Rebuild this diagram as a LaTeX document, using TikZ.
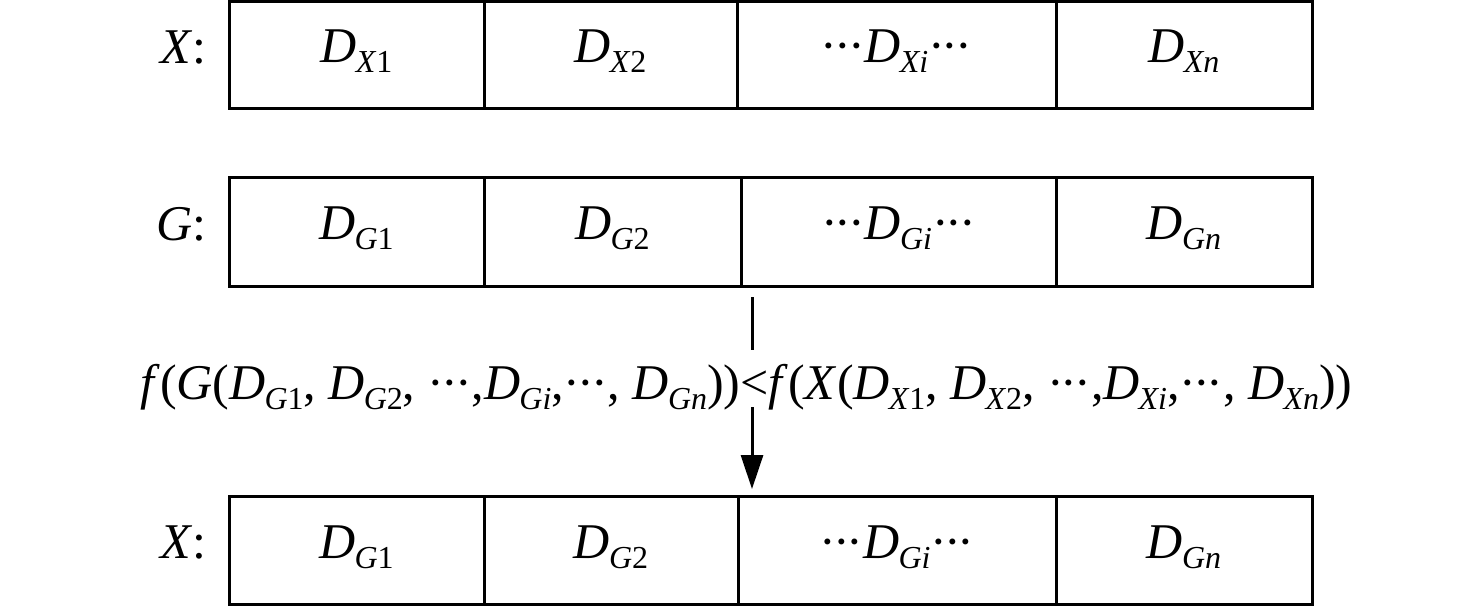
\documentclass[tikz,border=0pt]{standalone}
\usepackage{fontspec}
\setmainfont{Liberation Serif}
\usetikzlibrary{arrows.meta}
\newcommand{\subs}[1]{\raisebox{-5pt}{\fontsize{16}{16}\selectfont #1}}
\newcommand{\DD}[1]{\textit{D}\kern-0.5pt\subs{#1}}
\newcommand{\dts}{·\kern-1.5pt·\kern-1.5pt·}
\tikzset{
  cellbox/.style={draw=black, line width=1.5pt, inner sep=0pt, text height=14pt, text depth=6pt, font=\fontsize{25}{30}\selectfont},
  lbl/.style={inner sep=0pt, anchor=base east, font=\fontsize{25}{30}\selectfont},
  formula/.style={inner sep=0pt, anchor=base west, font=\fontsize{25}{30}\selectfont},
  conn/.style={draw=black, line width=1.5pt},
  arr/.style={conn, -{Triangle[length=17pt, width=11pt]}}
}
\begin{document}
\begin{tikzpicture}[x=0.5pt, y=-0.5pt]
\useasboundingbox (0,0) rectangle (1476,607);
% row 1
\node[cellbox, minimum width=127.5pt, minimum height=53.25pt] (x1) at (356.5,54.75) {\DD{\textit{X}1}};
\node[cellbox, minimum width=126.5pt, minimum height=53.25pt] (x2) at (610.5,54.75) {\DD{\textit{X}2}};
\node[cellbox, minimum width=159.5pt, minimum height=53.25pt] (x3) at (896.5,54.75) {\dts\DD{\textit{Xi}}\dts};
\node[cellbox, minimum width=128pt, minimum height=53.25pt] (x4) at (1184,54.75) {\DD{\textit{Xn}}};
\node[lbl] (lx) at (207,63) {\textit{X}:};
% row 2
\node[cellbox, minimum width=127.5pt, minimum height=54.25pt] (g1) at (356.5,231.75) {\DD{\textit{G}1}};
\node[cellbox, minimum width=128.5pt, minimum height=54.25pt] (g2) at (612.5,231.75) {\DD{\textit{G}2}};
\node[cellbox, minimum width=157.5pt, minimum height=54.25pt] (g3) at (898.5,231.75) {\dts\DD{\textit{Gi}}\dts};
\node[cellbox, minimum width=128pt, minimum height=54.25pt] (g4) at (1184,231.75) {\DD{\textit{Gn}}};
\node[lbl] (lg) at (207,240) {\textit{G}:};
% row 3
\node[cellbox, minimum width=127.5pt, minimum height=54pt] (r1) at (356.5,550) {\DD{\textit{G}1}};
\node[cellbox, minimum width=127pt, minimum height=54pt] (r2) at (611,550) {\DD{\textit{G}2}};
\node[cellbox, minimum width=159pt, minimum height=54pt] (r3) at (897,550) {\dts\DD{\textit{Gi}}\dts};
\node[cellbox, minimum width=128pt, minimum height=54pt] (r4) at (1184,550) {\DD{\textit{Gn}}};
\node[lbl] (lr) at (207,558) {\textit{X}:};
% formula
\node[formula] (fm) at (140,399) {\textit{f}(\textit{G}(\DD{\textit{G}1}, \DD{\textit{G}2}, \dts,\DD{\textit{Gi}},\dts, \DD{\textit{Gn}}))<\textit{f}(\textit{X}(\DD{\textit{X}1}, \DD{\textit{X}2}, \dts,\DD{\textit{Xi}},\dts, \DD{\textit{Xn}}))};
% arrow
\coordinate (a1) at (752,297);
\coordinate (a2) at (752,350);
\coordinate (a3) at (752,407);
\coordinate (a4) at (752,489);
\draw[conn] (a1) -- (a2);
\draw[arr] (a3) -- (a4);
\end{tikzpicture}
\end{document}
